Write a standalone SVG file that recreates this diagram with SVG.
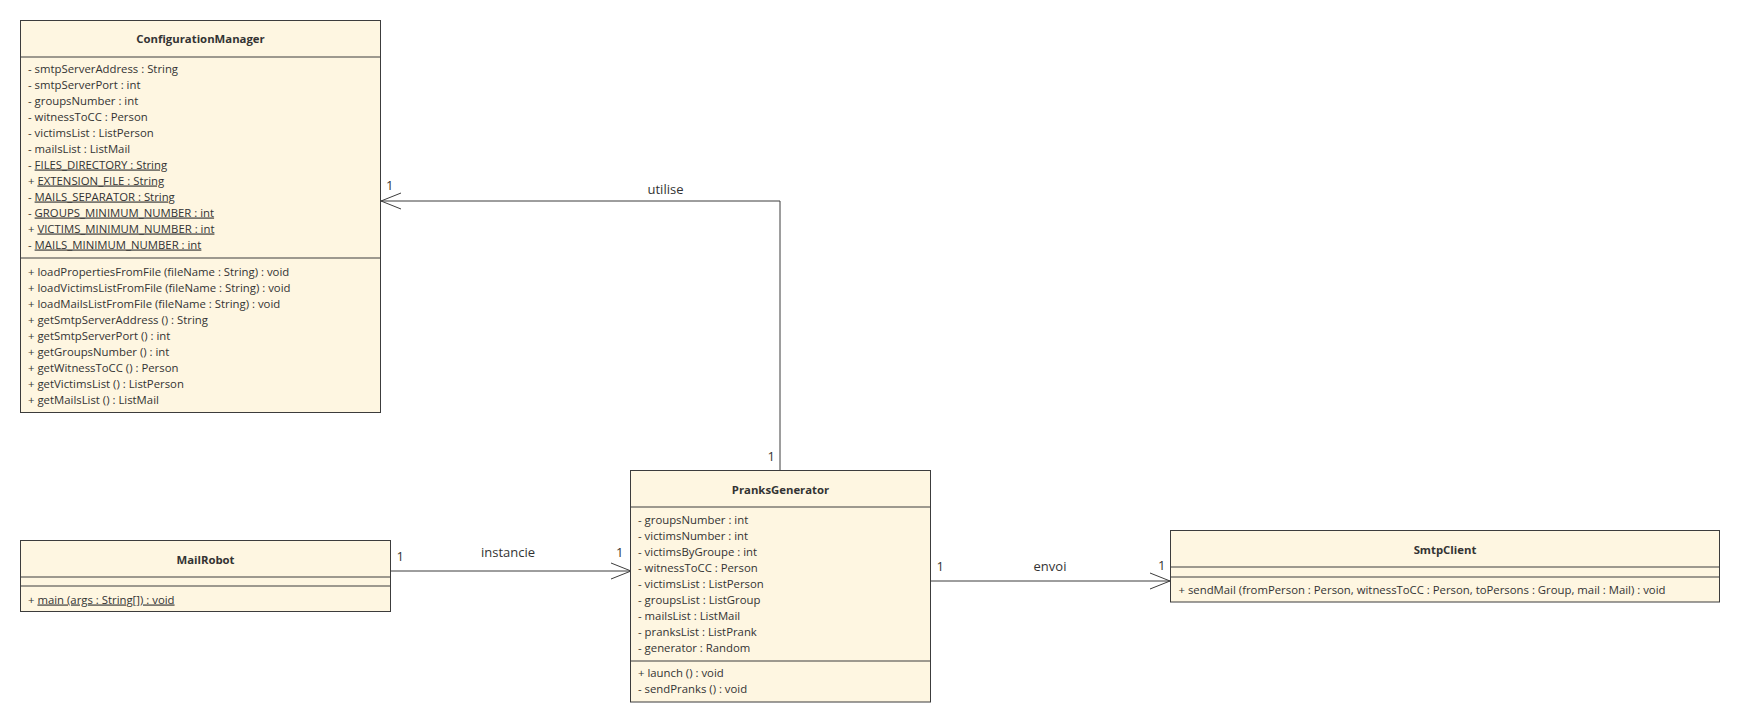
<svg xmlns="http://www.w3.org/2000/svg" width="1740" height="722" viewBox="0 0 1740 722">
<style>
.box{fill:#fef6e1;stroke:#3c3c3c;stroke-width:1}
.sep{stroke:#3c3c3c;stroke-width:1}
.t{font-family:"Open Sans","Noto Sans",sans-serif;font-size:11.35px;fill:#333}
.h{font-family:"Open Sans","Noto Sans",sans-serif;font-size:11.35px;font-weight:bold;fill:#333;text-anchor:middle}
.lbl{font-family:"Open Sans","Noto Sans",sans-serif;font-size:13px;fill:#333}
.c{text-anchor:middle}
.ln{fill:none;stroke:#3c3c3c;stroke-width:1}
</style>
<rect width="1740" height="722" fill="#fff"/>
<g id="connectors">
<polyline class="ln" points="780,471 780,201 381,201"/>
<polyline class="ln" points="401,193 381,201 401,209"/>
<line class="ln" x1="391" y1="571" x2="631" y2="571"/>
<polyline class="ln" points="611,563 631,571 611,579"/>
<line class="ln" x1="931" y1="581" x2="1170" y2="581"/>
<polyline class="ln" points="1150,573 1170,581 1150,589"/>
<text class="lbl c" x="665.5" y="194">utilise</text>
<text class="lbl" x="386" y="190">1</text>
<text class="lbl" x="767.5" y="461">1</text>
<text class="lbl c" x="508" y="557">instancie</text>
<text class="lbl" x="396.5" y="560.5">1</text>
<text class="lbl" x="616" y="557">1</text>
<text class="lbl c" x="1050" y="570.5">envoi</text>
<text class="lbl" x="936.5" y="570.5">1</text>
<text class="lbl" x="1158" y="570">1</text>
</g>
<g id="ConfigurationManager">
<rect class="box" x="20.5" y="20.5" width="360" height="392"/>
<line class="sep" x1="20.5" y1="57" x2="380.5" y2="57"/>
<line class="sep" x1="20.5" y1="258" x2="380.5" y2="258"/>
<text class="h" x="200.5" y="43">ConfigurationManager</text>
<text class="t" x="28" y="72.5">- smtpServerAddress : String</text>
<text class="t" x="28" y="88.5">- smtpServerPort : int</text>
<text class="t" x="28" y="104.5">- groupsNumber : int</text>
<text class="t" x="28" y="120.5">- witnessToCC : Person</text>
<text class="t" x="28" y="136.5">- victimsList : ListPerson</text>
<text class="t" x="28" y="152.5">- mailsList : ListMail</text>
<text class="t" x="28" y="168.5">- <tspan text-decoration="underline">FILES_DIRECTORY : String</tspan></text>
<text class="t" x="28" y="184.5">+ <tspan text-decoration="underline">EXTENSION_FILE : String</tspan></text>
<text class="t" x="28" y="200.5">- <tspan text-decoration="underline">MAILS_SEPARATOR : String</tspan></text>
<text class="t" x="28" y="216.5">- <tspan text-decoration="underline">GROUPS_MINIMUM_NUMBER : int</tspan></text>
<text class="t" x="28" y="232.5">+ <tspan text-decoration="underline">VICTIMS_MINIMUM_NUMBER : int</tspan></text>
<text class="t" x="28" y="248.5">- <tspan text-decoration="underline">MAILS_MINIMUM_NUMBER : int</tspan></text>
<text class="t" x="28" y="275.5">+ loadPropertiesFromFile (fileName : String) : void</text>
<text class="t" x="28" y="291.5">+ loadVictimsListFromFile (fileName : String) : void</text>
<text class="t" x="28" y="307.5">+ loadMailsListFromFile (fileName : String) : void</text>
<text class="t" x="28" y="323.5">+ getSmtpServerAddress () : String</text>
<text class="t" x="28" y="339.5">+ getSmtpServerPort () : int</text>
<text class="t" x="28" y="355.5">+ getGroupsNumber () : int</text>
<text class="t" x="28" y="371.5">+ getWitnessToCC () : Person</text>
<text class="t" x="28" y="387.5">+ getVictimsList () : ListPerson</text>
<text class="t" x="28" y="403.5">+ getMailsList () : ListMail</text>
</g>
<g id="PranksGenerator">
<rect class="box" x="630.5" y="470.5" width="300" height="231.5"/>
<line class="sep" x1="630.5" y1="507" x2="930.5" y2="507"/>
<line class="sep" x1="630.5" y1="661" x2="930.5" y2="661"/>
<text class="h" x="780.5" y="493.5">PranksGenerator</text>
<text class="t" x="638" y="523.5">- groupsNumber : int</text>
<text class="t" x="638" y="539.5">- victimsNumber : int</text>
<text class="t" x="638" y="555.5">- victimsByGroupe : int</text>
<text class="t" x="638" y="571.5">- witnessToCC : Person</text>
<text class="t" x="638" y="587.5">- victimsList : ListPerson</text>
<text class="t" x="638" y="603.5">- groupsList : ListGroup</text>
<text class="t" x="638" y="619.5">- mailsList : ListMail</text>
<text class="t" x="638" y="635.5">- pranksList : ListPrank</text>
<text class="t" x="638" y="651.5">- generator : Random</text>
<text class="t" x="638" y="676.5">+ launch () : void</text>
<text class="t" x="638" y="693">- sendPranks () : void</text>
</g>
<g id="MailRobot">
<rect class="box" x="20.5" y="540.5" width="370" height="71"/>
<line class="sep" x1="20.5" y1="577" x2="390.5" y2="577"/>
<line class="sep" x1="20.5" y1="586" x2="390.5" y2="586"/>
<text class="h" x="205.5" y="563.5">MailRobot</text>
<text class="t" x="28" y="603.5">+ <tspan text-decoration="underline">main (args : String[]) : void</tspan></text>
</g>
<g id="SmtpClient">
<rect class="box" x="1170.5" y="530.5" width="549" height="71.5"/>
<line class="sep" x1="1170.5" y1="567" x2="1719.5" y2="567"/>
<line class="sep" x1="1170.5" y1="577" x2="1719.5" y2="577"/>
<text class="h" x="1445" y="553.5">SmtpClient</text>
<text class="t" x="1178.5" y="594">+ sendMail (fromPerson : Person, witnessToCC : Person, toPersons : Group, mail : Mail) : void</text>
</g>
</svg>
